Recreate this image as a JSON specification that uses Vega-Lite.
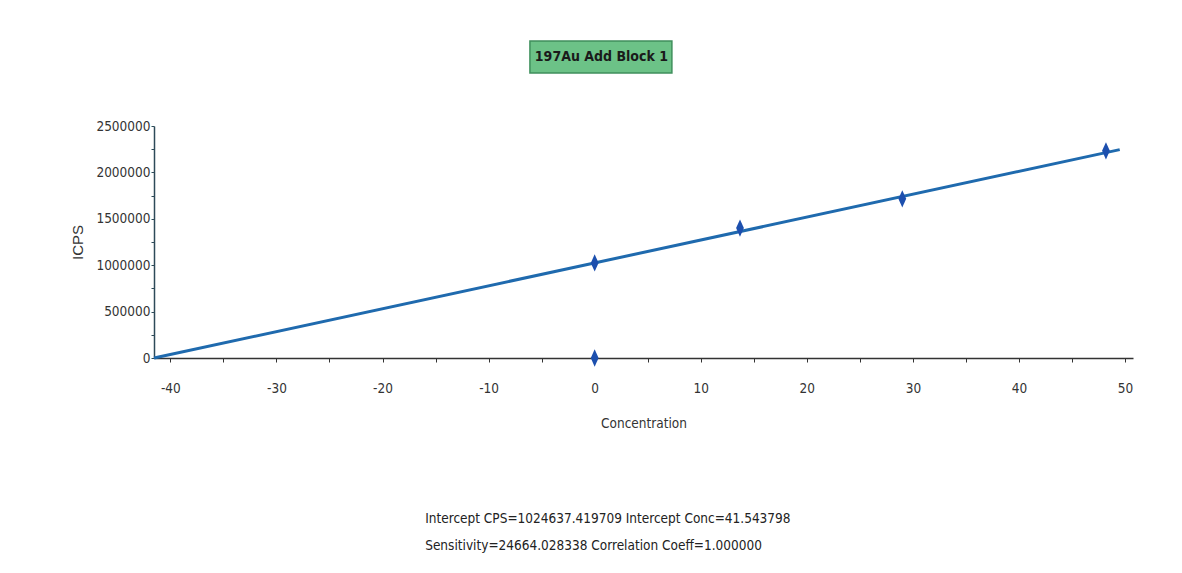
{
  "$schema": "https://vega.github.io/schema/vega-lite/v6.json",
  "autosize": {"type": "pad"},
  "padding": {"left": 70, "top": 40, "right": 49, "bottom": 14},
  "background": "#ffffff",
  "bounds": "flush",
  "spacing": 53,
  "config": {
    "view": {"stroke": null},
    "font": "DejaVu Sans Condensed, sans-serif"
  },
  "datasets": {
    "curve": [
      {"kind": "fit", "conc": -41.543798, "icps": 0},
      {"kind": "fit", "conc": 49.5, "icps": 2245500},
      {"kind": "std", "conc": 0, "icps": 0},
      {"kind": "std", "conc": 0, "icps": 1024637},
      {"kind": "std", "conc": 13.7, "icps": 1400000},
      {"kind": "std", "conc": 29.0, "icps": 1715000},
      {"kind": "std", "conc": 48.2, "icps": 2232000}
    ],
    "banner": [{"label": "197Au Add Block 1"}],
    "footer": [
      {"line": 1, "text": "Intercept CPS=1024637.419709  Intercept Conc=41.543798"},
      {"line": 2, "text": "Sensitivity=24664.028338  Correlation Coeff=1.000000"}
    ]
  },
  "vconcat": [
    {
      "width": 979,
      "height": 32,
      "data": {"name": "banner"},
      "layer": [
        {
          "mark": {"type": "rect", "fill": "#6cc287", "stroke": "#3f8f5c", "strokeWidth": 1.5},
          "encoding": {
            "x": {"datum": 0.384, "type": "quantitative", "scale": {"domain": [0, 1]}, "axis": null},
            "x2": {"datum": 0.529},
            "y": {"datum": 0, "type": "quantitative", "scale": {"domain": [0, 1]}, "axis": null},
            "y2": {"datum": 1}
          }
        },
        {
          "mark": {"type": "text", "font": "DejaVu Sans Condensed, sans-serif", "fontWeight": "bold", "fontSize": 14, "color": "#1a1a1a", "align": "center", "baseline": "middle"},
          "encoding": {
            "x": {"datum": 0.457, "type": "quantitative"},
            "y": {"datum": 0.5, "type": "quantitative"},
            "text": {"field": "label"}
          }
        }
      ]
    },
    {
      "bounds": "flush",
      "spacing": 147,
      "vconcat": [
        {
          "width": 979,
          "height": 232,
          "data": {"name": "curve"},
          "encoding": {
            "x": {
              "field": "conc", "type": "quantitative",
              "scale": {"domain": [-41.543798, 50.75], "nice": false, "zero": false},
              "axis": {
                "title": "Concentration",
                "values": [-40, -35, -30, -25, -20, -15, -10, -5, 0, 5, 10, 15, 20, 25, 30, 35, 40, 45, 50],
                "labelExpr": "datum.value % 10 === 0 ? replace(datum.label, '\u2212', '-') : ''",
                "grid": false,
                "domainColor": "#333333", "domainWidth": 1.5,
                "tickColor": "#333333", "tickSize": 4,
                "labelPadding": 19, "labelFontSize": 13.5, "labelColor": "#333333",
                "labelFont": "DejaVu Sans Condensed, sans-serif",
                "titleFont": "DejaVu Sans Condensed, sans-serif",
                "titleFontSize": 13.5, "titleFontWeight": "normal", "titleColor": "#333333",
                "titlePadding": 22
              }
            },
            "y": {
              "field": "icps", "type": "quantitative",
              "scale": {"domain": [0, 2500000], "nice": false},
              "axis": {
                "title": "ICPS",
                "values": [0, 250000, 500000, 750000, 1000000, 1250000, 1500000, 1750000, 2000000, 2250000, 2500000],
                "format": "d",
                "labelExpr": "datum.value % 500000 === 0 ? datum.label : ''",
                "grid": false,
                "domainColor": "#2d4a58", "domainWidth": 1.5,
                "tickColor": "#2d4a58", "tickSize": 3,
                "labelPadding": 1, "labelFontSize": 13.5, "labelColor": "#333333",
                "labelFont": "DejaVu Sans Condensed, sans-serif",
                "titleFont": "Liberation Sans, Arial, sans-serif",
                "titleFontSize": 15, "titleFontWeight": "normal", "titleColor": "#333333",
                "titlePadding": 10
              }
            }
          },
          "layer": [
            {
              "transform": [{"filter": "datum.kind === 'fit'"}],
              "mark": {"type": "line", "color": "#1f6aae", "strokeWidth": 3}
            },
            {
              "transform": [{"filter": "datum.kind === 'std'"}],
              "mark": {"type": "point", "shape": "M0,-1L0.45,0L0,1L-0.45,0Z", "size": 300, "filled": true, "color": "#1c4fae", "opacity": 1}
            }
          ]
        },
        {
          "width": 979,
          "height": 54,
          "data": {"name": "footer"},
          "mark": {"type": "text", "align": "left", "baseline": "middle", "fontSize": 13.5, "color": "#222222", "font": "DejaVu Sans Condensed, sans-serif"},
          "encoding": {
            "x": {"datum": 0.277, "type": "quantitative", "scale": {"domain": [0, 1]}, "axis": null},
            "y": {"field": "line", "type": "ordinal", "scale": {"type": "point", "padding": 0.5}, "axis": null},
            "text": {"field": "text"}
          }
        }
      ]
    }
  ]
}
